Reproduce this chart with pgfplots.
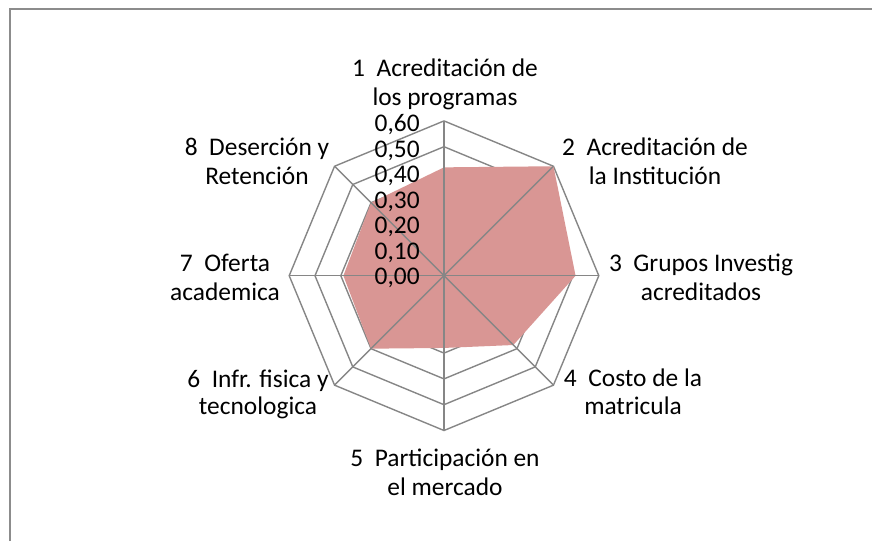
\documentclass[border=0pt]{standalone}
\usepackage{pgfplots}
\pgfplotsset{compat=1.18}
\usepackage{fontspec}
\setmainfont{Carlito}

\definecolor{radarfill}{RGB}{217,150,148}
\definecolor{gridgray}{RGB}{134,134,134}
\definecolor{framegray}{RGB}{140,140,140}

\begin{document}
\begin{tikzpicture}
\fontsize{12.7}{14}\selectfont
\begin{scope}[x=0.5pt,y=-0.5pt]
  \useasboundingbox (0,0) rectangle (872,541);
  % chart area frame (only left and top show)
  \draw[framegray, line width=1pt] (10,541) -- (10,8.5) -- (872,8.5);
\end{scope}

\begin{axis}[
    at={(222pt,-137.85pt)}, anchor=origin,
    x=129pt, y=129pt,
    xmin=-0.62, xmax=0.62, ymin=-0.62, ymax=0.62,
    hide axis, clip=false,
    ring/.style={gridgray, line width=0.7pt, line join=miter, data cs=polar},
]
% grid rings 0.1 ... 0.6
\addplot[ring] coordinates {(90,0.1) (45,0.1) (0,0.1) (-45,0.1) (-90,0.1) (-135,0.1) (180,0.1) (135,0.1) (90,0.1)};
\addplot[ring] coordinates {(90,0.2) (45,0.2) (0,0.2) (-45,0.2) (-90,0.2) (-135,0.2) (180,0.2) (135,0.2) (90,0.2)};
\addplot[ring] coordinates {(90,0.3) (45,0.3) (0,0.3) (-45,0.3) (-90,0.3) (-135,0.3) (180,0.3) (135,0.3) (90,0.3)};
\addplot[ring] coordinates {(90,0.4) (45,0.4) (0,0.4) (-45,0.4) (-90,0.4) (-135,0.4) (180,0.4) (135,0.4) (90,0.4)};
\addplot[ring] coordinates {(90,0.5) (45,0.5) (0,0.5) (-45,0.5) (-90,0.5) (-135,0.5) (180,0.5) (135,0.5) (90,0.5)};
\addplot[ring] coordinates {(90,0.6) (45,0.6) (0,0.6) (-45,0.6) (-90,0.6) (-135,0.6) (180,0.6) (135,0.6) (90,0.6)};

% the series (filled radar)
\addplot[fill=radarfill, draw=none, data cs=polar] coordinates {
    (90,0.42) (45,0.60) (0,0.51) (-45,0.38) (-90,0.28) (-135,0.40) (180,0.39) (135,0.40) (90,0.42)
};

% spokes on top
\addplot[ring] coordinates {(90,0.6) (270,0.6)};
\addplot[ring] coordinates {(45,0.6) (225,0.6)};
\addplot[ring] coordinates {(0,0.6) (180,0.6)};
\addplot[ring] coordinates {(-45,0.6) (135,0.6)};
\end{axis}

\begin{scope}[x=0.5pt,y=-0.5pt, every node/.style={inner sep=0pt}]
  % value labels
  \node[anchor=base east] at (420,284.5) {0,00};
  \node[anchor=base east] at (420,259.0) {0,10};
  \node[anchor=base east] at (420,233.5) {0,20};
  \node[anchor=base east] at (420,208.0) {0,30};
  \node[anchor=base east] at (420,182.5) {0,40};
  \node[anchor=base east] at (420,157.0) {0,50};
  \node[anchor=base east] at (420,131.5) {0,60};
  % category labels
  \node[anchor=base] at (445,76.5) {1\ \ Acreditación de};
  \node[anchor=base] at (445,105) {los programas};
  \node[anchor=base] at (655,155) {2\ \ Acreditación de};
  \node[anchor=base] at (655,184) {la Institución};
  \node[anchor=base] at (701,271.5) {3\ \ Grupos Investig};
  \node[anchor=base] at (701,300) {acreditados};
  \node[anchor=base] at (633,386) {4\ \ Costo de la};
  \node[anchor=base] at (633,414.5) {matricula};
  \node[anchor=base] at (445,466) {5\ \ Participación en};
  \node[anchor=base] at (445,495) {el mercado};
  \node[anchor=base] at (258,387) {6\ \ Infr. fisica y};
  \node[anchor=base] at (258,414.5) {tecnologica};
  \node[anchor=base] at (225,271.5) {7\ \ Oferta};
  \node[anchor=base] at (225,300) {academica};
  \node[anchor=base] at (257,155) {8\ \ Deserción y};
  \node[anchor=base] at (257,184) {Retención};
\end{scope}
\end{tikzpicture}
\end{document}
